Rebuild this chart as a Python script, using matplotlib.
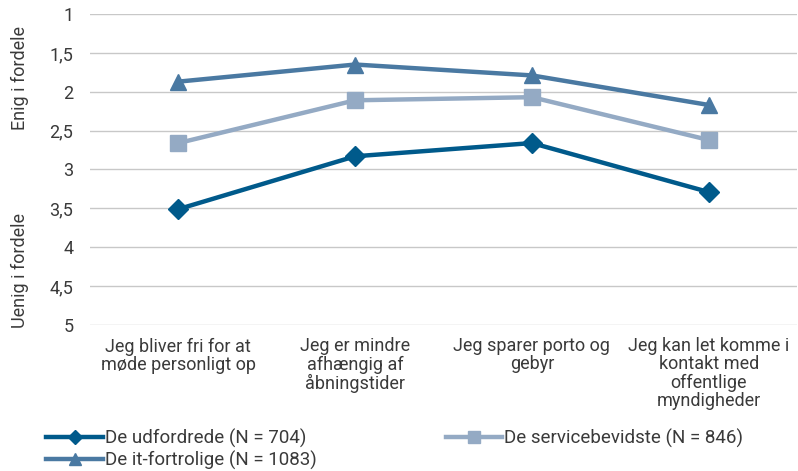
import matplotlib.pyplot as plt

# data
categories = ["Jeg bliver fri for at\nmøde personligt op",
              "Jeg er mindre\nafhængig af\nåbningstider",
              "Jeg sparer porto og\ngebyr",
              "Jeg kan let komme i\nkontakt med\noffentlige\nmyndigheder"]
udfordrede = [3.51, 2.83, 2.66, 3.29]
servicebevidste = [2.66, 2.11, 2.07, 2.62]
it_fortrolige = [1.87, 1.65, 1.79, 2.17]
yticks = [1, 1.5, 2, 2.5, 3, 3.5, 4, 4.5, 5]
ytick_labels = ["1", "1,5", "2", "2,5", "3", "3,5", "4", "4,5", "5"]

plt.rcParams['font.family'] = ['Roboto', 'DejaVu Sans']
txt = "#3a3a3a"

fig = plt.figure(figsize=(7.98, 4.71), dpi=100)
ax = fig.add_axes([0.1128, 0.31, 0.886, 0.6603])

x = range(len(categories))
l1, = ax.plot(x, udfordrede, color="#005a8b", lw=3.2, marker="D", ms=10,
              label="De udfordrede (N = 704)")
l2, = ax.plot(x, servicebevidste, color="#94aac4", lw=3.2, marker="s", ms=12,
              label="De servicebevidste (N = 846)")
l3, = ax.plot(x, it_fortrolige, color="#4a79a2", lw=3.2, marker="^", ms=12,
              label="De it-fortrolige (N = 1083)")

ax.set_ylim(5, 1)
ax.set_xlim(-0.5, 3.5)
ax.set_yticks(yticks)
ax.set_yticklabels(ytick_labels)
ax.set_xticks(list(x))
ax.set_xticklabels(categories, linespacing=1.0, fontsize=13.5)
ax.grid(axis="y", color="#c8c8c8", lw=1)
ax.set_axisbelow(True)
for s in ax.spines.values():
    s.set_visible(False)
ax.tick_params(axis="both", length=0, labelsize=13, colors=txt)
ax.tick_params(axis="y", pad=12)
ax.tick_params(axis="x", pad=9)

fig.text(0.025, 0.835, "Enig i fordele", rotation=90, ha="center", va="center",
         fontsize=13, color=txt)
fig.text(0.025, 0.425, "Uenig i fordele", rotation=90, ha="center", va="center",
         fontsize=13, color=txt)

leg = fig.legend([l1, l3, l2], [l1.get_label(), l3.get_label(), l2.get_label()],
                 ncol=2, loc="lower left", bbox_to_anchor=(0.037, -0.034),
                 frameon=False, fontsize=13.5, handlelength=3.0, handletextpad=0.1,
                 columnspacing=6.9, labelspacing=0.15, markerscale=0.7)
for t in leg.get_texts():
    t.set_color(txt)

fig.savefig("out.png", dpi=100)
